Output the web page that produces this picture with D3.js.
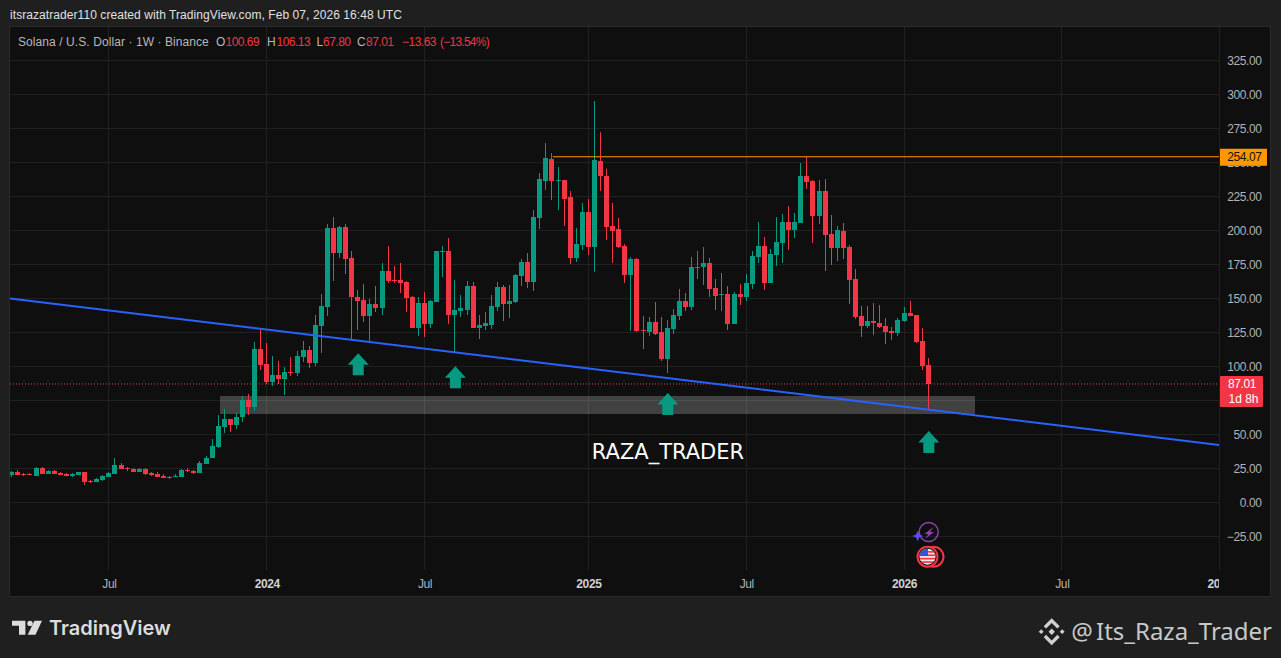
<!DOCTYPE html>
<html lang="en">

<head>
    <meta charset="UTF-8">
    <title>Solana / U.S. Dollar 1W</title>
    <script src="https://d3js.org/d3.v7.min.js"></script>
    <style>
        body {
            margin: 0;
            padding: 0;
            background-color: #1f1f1f;
            overflow: hidden;
        }

        svg {
            display: block;
            font-family: 'Liberation Sans', sans-serif;
        }

        .axis text {
            fill: #b2b2b2;
            font-size: 12px;
            letter-spacing: -0.4px;
        }

        .axis .major text {
            font-weight: bold;
            fill: #d0d0d0;
        }

        .axis path,
        .axis line {
            display: none;
        }

        .grid line {
            stroke: #212121;
            stroke-width: 1;
            shape-rendering: crispEdges;
        }
    </style>
</head>

<body>
    <svg id="chart" width="1281" height="658"></svg>

    <script>
        // Weekly candles, first one is the week of 2023-03-13
        const firstWeek = "2023-03-13";
        const candleOpen = [
            20.1, 22.3, 21.1, 21.1, 19.6, 25.2, 20.8, 23, 21.8, 21.1,
            19.6, 20.1, 22.3, 15.9, 15, 16.4, 18.6, 20.8, 27.5, 25.5,
            24.5, 22.3, 24.5, 21.8, 20.8, 19.4, 18.1, 18.6, 18.6, 23.8,
            23, 21.6, 28.2, 32.6, 40.7, 55.4, 61.3, 56.9, 62.7, 75.2,
            70.1, 112.7, 101.7, 88.5, 93.6, 90.7, 95.8, 95, 106.9, 112,
            102.5, 129.7, 143.6, 201.7, 183.3, 202.5, 179.7, 151, 148.8, 137,
            145.8, 142.9, 170.1, 163.5, 163.5, 162, 151, 128.2, 146.6, 131.1,
            147.3, 184, 184.8, 137.7, 140.7, 141.4, 159.1, 128.2, 129.7, 130.4,
            143.6, 158.3, 145.8, 147.3, 166.4, 176.7, 162, 209, 236.3, 252.5,
            236.3, 237, 224.5, 179.7, 189.2, 213.5, 187.7, 251, 240, 203.2,
            201, 188.5, 167.2, 178.9, 126.7, 125.2, 132.6, 125.2, 105.4, 127.5,
            137, 148, 143.6, 172.3, 173, 176, 157.6, 152.5, 153.2, 131.1,
            153.2, 151, 160.5, 180.4, 188.5, 161.3, 181.9, 190.7, 206.1, 200.2,
            205.4, 240, 236.3, 210.5, 228.9, 197.3, 187, 199.5, 187.7, 164.2,
            137, 129.7, 133.3, 131.9, 129.7, 126, 124.5, 133.3, 139.2, 137.7,
            118.6, 100.69
        ];
        const candleHigh = [
            23.3, 23.5, 21.6, 21.6, 26, 26, 23.8, 23.8, 22.3, 21.6,
            21.6, 22.5, 22.5, 16.4, 17.9, 19.9, 22.3, 32.6, 28.7, 26.2,
            25.2, 25, 25, 22.3, 22, 20.6, 19.6, 20.8, 24.5, 25,
            23.8, 30.4, 34.1, 46.6, 64.2, 68.6, 61.3, 65.7, 78.2, 79.7,
            117.9, 126.7, 117.2, 107.6, 103.9, 99.5, 106.9, 111.3, 118.6, 114.9,
            137.7, 153.2, 204.7, 209.8, 203.2, 204.7, 184.8, 156.1, 160.5, 149.5,
            159.1, 176, 188.5, 173.8, 176, 162.7, 151.7, 151, 154.7, 148.8,
            184.8, 188.5, 194.4, 163.5, 152.5, 162.7, 162, 137.7, 140, 152.5,
            162, 159.8, 159.8, 167.9, 178.9, 183.3, 215, 242.2, 264.2, 256.9,
            246.6, 237, 228.9, 201.7, 220.1, 223, 295, 272.3, 245.1, 220.1,
            209.1, 190, 180.4, 179.7, 137, 136.3, 147.3, 136.3, 134, 142.2,
            156.9, 153.9, 180.4, 184.8, 187.7, 179.7, 164.2, 168.6, 159.1, 154.7,
            160.5, 167.9, 184.8, 206.1, 195.1, 186.3, 209.8, 212, 217.9, 212.7,
            249.5, 253.9, 237, 237, 237.7, 211.3, 203.2, 205.4, 189.2, 171.6,
            144.4, 144.4, 146.6, 145.1, 135.5, 128.9, 135.5, 143.6, 148, 137.7,
            128.2, 106.13
        ];
        const candleLow = [
            18.9, 20, 19.4, 19.9, 19.6, 20.8, 20.8, 20.6, 19.9, 19.4,
            18.6, 20, 12.7, 14, 15, 15.7, 18.6, 20.8, 24.5, 23,
            22.3, 22.3, 20.3, 19.4, 18.9, 18.1, 17.2, 18.6, 18.6, 22.3,
            20.8, 21.6, 28.2, 32.6, 40, 51, 51.7, 53.9, 59, 64.2,
            67.2, 97.3, 87, 85.5, 87, 78.9, 92.8, 92.8, 103.2, 98.8,
            100.2, 109.8, 137, 162.7, 179.7, 167.9, 119.4, 126.7, 132.6, 118.6,
            140, 137.7, 161.3, 161.3, 153.9, 140, 128.2, 122.3, 121.6, 128.2,
            147.3, 165.7, 131.1, 110.5, 136.3, 137.7, 128.2, 120.1, 126.7, 127.5,
            140.7, 133.3, 135.5, 146.6, 159.1, 157.6, 155.4, 201, 229.7, 222.3,
            215, 203.2, 175.2, 176.7, 185.5, 181.9, 169.4, 228.9, 192.9, 176,
            187, 161.3, 126, 125.2, 112.7, 122.3, 123, 104, 95.1, 123.8,
            134, 140.7, 141.4, 164.2, 159.8, 151, 141.4, 140.7, 126.7, 131.1,
            145.1, 148, 156.9, 176, 156.1, 161.3, 173.8, 176, 185.5, 194.4,
            205.4, 230.4, 190.7, 204.7, 170.1, 174.5, 177.5, 178.9, 145.8, 134.8,
            121.6, 128.2, 123, 128.2, 116.4, 119.4, 122.3, 132.6, 137, 117.2,
            97.3, 67.8
        ];
        const candleClose = [
            22.3, 20.1, 20.3, 20.3, 25.2, 20.8, 23, 20.8, 20.1, 19.6,
            20.8, 22.3, 15, 15, 17.2, 19.4, 21.6, 27.5, 24.5, 24.5,
            22.3, 24.5, 20.8, 20.1, 18.9, 18.1, 18.6, 19.4, 23.8, 23,
            21.8, 28.9, 32.6, 41.4, 56.1, 61.3, 56.9, 62.7, 75.2, 70.1,
            112.7, 101, 88.5, 93.6, 90.7, 95.8, 95, 107.6, 112, 102.5,
            130.4, 144.4, 201.7, 183.3, 202.5, 178.9, 151, 148, 137, 145.8,
            142.9, 170.1, 162.7, 162.7, 161.3, 150.2, 128.2, 146.6, 131.1, 148,
            184.8, 184.8, 137.7, 141.4, 142.9, 159.1, 128.2, 130.4, 131.9, 144.4,
            158.3, 145.8, 148, 167.2, 176.7, 162, 209.8, 237.7, 253.2, 236.3,
            237, 223, 179.7, 190, 213.5, 187.7, 251.7, 240, 202.5, 199.5,
            187.7, 167.2, 178.9, 126, 126, 132.6, 123.8, 105.4, 128.2, 137.7,
            148, 143.6, 173, 173, 176, 156.9, 151.7, 153.2, 131.1, 153.2,
            151, 161.3, 181.1, 188.5, 161.3, 182.6, 191.4, 206.1, 200.2, 206.1,
            240, 235.5, 210.5, 228.9, 196.6, 187, 200.2, 187, 163.5, 136.3,
            129.7, 133.3, 131.9, 128.9, 125.2, 124.5, 134, 139.2, 137, 117.9,
            100.2, 87.01
        ];

        // Axis ticks
        const priceTicks = [325, 300, 275, 250, 225, 200, 175, 150, 125, 100, 75, 50, 25, 0, -25];
        const timeTickDates = ["2023-07-03", "2024-01-01", "2024-07-01", "2025-01-06", "2025-07-07", "2026-01-05", "2026-07-06", "2027-01-04"];
        const timeTickLabels = ["Jul", "2024", "Jul", "2025", "Jul", "2026", "Jul", "2027"];

        // Drawings on the chart
        const lastPrice = 87.01;
        const resistancePrice = 254.07;
        const resistanceStart = "2024-11-26";
        const resistanceEnd = "2027-01-04";
        const trendDates = ["2023-03-11", "2027-01-04"];
        const trendPrices = [149.9, 42.1];
        const zoneDates = ["2023-11-08", "2026-03-28"];
        const zonePrices = [78.2, 64.9];
        const arrowDates = ["2024-04-15", "2024-08-05", "2025-04-07", "2026-02-02"];
        const arrowPrices = [109.6, 100, 80.4, 52.4];

        const GREEN = "#089981";
        const RED = "#f23645";
        const ORANGE = "#ff9800";
        const LEGEND_GRAY = "#b8b8b8";

        // Pane and plot area
        const pane = { left: 10, top: 27, right: 1271, bottom: 597 };
        const plot = { left: 10, top: 27, right: 1219, bottom: 570 };

        const svg = d3.select("#chart");
        const parseDate = d3.utcParse("%Y-%m-%d");

        const xScale = d3.scaleUtc()
            .domain([parseDate("2024-01-01"), parseDate("2026-02-02")])
            .range([266.7, 928.3]);
        const yScale = d3.scaleLinear()
            .domain([0, 325])
            .range([502.3, 60.3]);

        const candles = candleOpen.map((open, i) => ({
            date: d3.utcDay.offset(parseDate(firstWeek), i * 7),
            open,
            high: candleHigh[i],
            low: candleLow[i],
            close: candleClose[i]
        }));

        svg.append("rect")
            .attr("x", pane.left - 0.5)
            .attr("y", pane.top - 0.5)
            .attr("width", pane.right - pane.left)
            .attr("height", pane.bottom - pane.top)
            .attr("fill", "#0f0f0f")
            .attr("stroke", "#2b2b2b");

        const defs = svg.append("defs");
        defs.append("clipPath").attr("id", "plot-clip").append("rect")
            .attr("x", plot.left)
            .attr("y", plot.top)
            .attr("width", plot.right - plot.left)
            .attr("height", plot.bottom - plot.top);
        defs.append("clipPath").attr("id", "time-clip").append("rect")
            .attr("x", plot.left)
            .attr("y", plot.bottom)
            .attr("width", plot.right - plot.left)
            .attr("height", pane.bottom - plot.bottom);

        // Grid
        const grid = svg.append("g").attr("class", "grid");
        grid.selectAll(".h")
            .data(priceTicks)
            .join("line")
            .attr("class", "h")
            .attr("x1", plot.left)
            .attr("x2", plot.right)
            .attr("y1", d => yScale(d))
            .attr("y2", d => yScale(d));
        grid.selectAll(".v")
            .data(timeTickDates)
            .join("line")
            .attr("class", "v")
            .attr("x1", d => xScale(parseDate(d)))
            .attr("x2", d => xScale(parseDate(d)))
            .attr("y1", plot.top)
            .attr("y2", plot.bottom);

        // Gray support zone
        svg.append("rect")
            .attr("x", xScale(parseDate(zoneDates[0])))
            .attr("y", yScale(zonePrices[0]))
            .attr("width", xScale(parseDate(zoneDates[1])) - xScale(parseDate(zoneDates[0])))
            .attr("height", yScale(zonePrices[1]) - yScale(zonePrices[0]))
            .attr("fill", "#ffffff")
            .attr("fill-opacity", 0.21)
            .attr("shape-rendering", "crispEdges");

        // Candles
        const chart = svg.append("g").attr("clip-path", "url(#plot-clip)");
        const candleG = chart.selectAll(".candle")
            .data(candles)
            .join("g")
            .attr("class", "candle")
            .attr("fill", d => d.close >= d.open ? GREEN : RED)
            .attr("shape-rendering", "crispEdges");
        candleG.append("rect")
            .attr("x", d => Math.floor(xScale(d.date)))
            .attr("width", 1)
            .attr("y", d => yScale(d.high))
            .attr("height", d => yScale(d.low) - yScale(d.high));
        candleG.append("rect")
            .attr("x", d => Math.floor(xScale(d.date)) - 2)
            .attr("width", 5)
            .attr("y", d => yScale(Math.max(d.open, d.close)))
            .attr("height", d => Math.max(1, Math.abs(yScale(d.open) - yScale(d.close))));

        // Last price dotted line
        chart.append("line")
            .attr("x1", plot.left)
            .attr("x2", plot.right)
            .attr("y1", yScale(lastPrice))
            .attr("y2", yScale(lastPrice))
            .attr("stroke", RED)
            .attr("stroke-dasharray", "1 2");

        // Resistance line
        chart.append("line")
            .attr("x1", xScale(parseDate(resistanceStart)))
            .attr("x2", xScale(parseDate(resistanceEnd)))
            .attr("y1", yScale(resistancePrice))
            .attr("y2", yScale(resistancePrice))
            .attr("stroke", ORANGE);

        // Trend line
        const trendLine = d3.line()
            .x(d => xScale(parseDate(d)))
            .y((d, i) => yScale(trendPrices[i]));
        chart.append("path")
            .attr("d", trendLine(trendDates))
            .attr("fill", "none")
            .attr("stroke", "#2962ff")
            .attr("stroke-width", 2);

        // Up arrows, drawn from the tip
        const arrowShape = "M0,0L10.5,11.5H5.5V22H-5.5V11.5H-10.5Z";
        chart.selectAll(".arrow")
            .data(arrowDates)
            .join("path")
            .attr("class", "arrow")
            .attr("d", arrowShape)
            .attr("fill", GREEN)
            .attr("transform", (d, i) => `translate(${xScale(parseDate(d)) + 0.5},${yScale(arrowPrices[i])})`);

        // Watermark text on the chart
        svg.append("text")
            .attr("x", 668)
            .attr("y", 458.5)
            .attr("text-anchor", "middle")
            .attr("fill", "#ffffff")
            .style("font-family", "'DejaVu Sans', sans-serif")
            .style("font-size", "21px")
            .text("RAZA_TRADER");

        // Event icons
        const eventG = svg.append("g");
        eventG.append("circle")
            .attr("cx", 928.7).attr("cy", 532).attr("r", 9.5)
            .attr("fill", "none").attr("stroke", "#8e3fa8").attr("stroke-width", 1.5);
        eventG.append("path")
            .attr("d", "M933.5,527L924.5,534H928.5L925,539L934,532H930Z")
            .attr("fill", "#9c3fb5");
        eventG.append("path")
            .attr("d", "M917.7,530.5L919.2,534.5L923.2,536L919.2,537.5L917.7,541.5L916.2,537.5L912.2,536L916.2,534.5Z")
            .attr("fill", "#5b4dff");
        eventG.append("circle")
            .attr("cx", 933.5).attr("cy", 556.7).attr("r", 10)
            .attr("fill", "#0f0f0f").attr("stroke", RED).attr("stroke-width", 2);
        const flagClip = defs.append("clipPath").attr("id", "flag-clip");
        flagClip.append("circle").attr("cx", 927.5).attr("cy", 556.7).attr("r", 8);
        eventG.append("circle")
            .attr("cx", 927.5).attr("cy", 556.7).attr("r", 10)
            .attr("fill", "#0f0f0f").attr("stroke", RED).attr("stroke-width", 2);
        const flagG = eventG.append("g").attr("clip-path", "url(#flag-clip)");
        flagG.append("rect").attr("x", 919).attr("y", 548).attr("width", 17).attr("height", 17).attr("fill", "#eeeeee");
        d3.range(4).forEach(i => {
            flagG.append("rect").attr("x", 919).attr("y", 551 + i * 3.4).attr("width", 17).attr("height", 1.7).attr("fill", RED);
        });
        flagG.append("rect").attr("x", 919).attr("y", 548).attr("width", 9).attr("height", 8).attr("fill", "#2f57d0");

        // Price axis, 75.00 sits behind the last price label so it gets no text
        const priceAxis = d3.axisRight(yScale)
            .tickValues(priceTicks)
            .tickSize(0)
            .tickPadding(0)
            .tickFormat(d => d === 75 ? "" : d3.format(".2f")(d).replace("-", "\u2212"));
        svg.append("g")
            .attr("class", "axis")
            .attr("transform", "translate(1261.5,0)")
            .call(priceAxis)
            .selectAll("text")
            .attr("text-anchor", "end");

        // Time axis, last label gets cut off at the price scale
        const timeAxis = d3.axisBottom(xScale)
            .tickValues(timeTickDates.map(parseDate))
            .tickSize(0)
            .tickPadding(0)
            .tickFormat((d, i) => timeTickLabels[i]);
        const timeG = svg.append("g")
            .attr("clip-path", "url(#time-clip)")
            .append("g")
            .attr("class", "axis")
            .attr("transform", "translate(0,579)")
            .call(timeAxis);
        timeG.selectAll(".tick")
            .classed("major", (d, i) => timeTickLabels[i] !== "Jul");

        // Price labels
        svg.append("rect")
            .attr("x", 1220).attr("y", yScale(resistancePrice) - 8)
            .attr("width", 47).attr("height", 17)
            .attr("fill", ORANGE);
        svg.append("text")
            .attr("x", 1261.5).attr("y", yScale(resistancePrice) + 4.5)
            .attr("text-anchor", "end")
            .attr("fill", "#131313")
            .style("font-size", "12px")
            .style("letter-spacing", "-0.4px")
            .text(resistancePrice.toFixed(2));
        svg.append("rect")
            .attr("x", 1220).attr("y", yScale(lastPrice) - 8)
            .attr("width", 43).attr("height", 31)
            .attr("rx", 1)
            .attr("fill", RED);
        svg.append("text")
            .attr("x", 1228).attr("y", yScale(lastPrice) + 4.5)
            .attr("fill", "#ffffff")
            .style("font-size", "12px")
            .style("letter-spacing", "-0.4px")
            .text(lastPrice.toFixed(2));
        svg.append("text")
            .attr("x", 1228.5).attr("y", yScale(lastPrice) + 19)
            .attr("fill", "#ffffff")
            .style("font-size", "12px")
            .text("1d 8h");

        // Header
        svg.append("text")
            .attr("x", 10).attr("y", 19)
            .attr("fill", "#e0e0e0")
            .style("font-size", "12px")
            .style("letter-spacing", "0.07px")
            .text("itsrazatrader110 created with TradingView.com, Feb 07, 2026 16:48 UTC");

        // Legend line
        const legendTexts = ["Solana / U.S. Dollar \u00b7 1W \u00b7 Binance", "O", "100.69", "H", "106.13", "L", "67.80", "C", "87.01", "\u221213.63", "(\u221213.54%)"];
        const legendStarts = [18, 216, 225.5, 267, 276.5, 316.5, 323, 357, 366, 402, 440];
        const legendSpacing = [0.08, 0, -0.5, 0, -0.5, 0, -0.5, 0, -0.5, -0.5, -0.75];
        const legend = svg.append("g")
            .style("font-size", "12px");
        legend.selectAll("text")
            .data(legendTexts)
            .join("text")
            .attr("x", (d, i) => legendStarts[i])
            .attr("y", 46)
            .attr("fill", (d, i) => (i < 2 || i === 3 || i === 5 || i === 7) ? LEGEND_GRAY : RED)
            .style("letter-spacing", (d, i) => `${legendSpacing[i]}px`)
            .text(d => d);

        // TradingView logo and footer
        const logo = svg.append("g").attr("fill", "#dcdcdc");
        logo.append("path").attr("d", "M12,620.7H25.4V634.7H19V625.7H12Z");
        logo.append("circle").attr("cx", 30).attr("cy", 623.4).attr("r", 2.7);
        logo.append("path").attr("d", "M34.5,620.7H42L35.5,634.7H27.7Z");
        svg.append("text")
            .attr("x", 49).attr("y", 635)
            .attr("fill", "#dcdcdc")
            .style("font-family", "Inter, sans-serif")
            .style("font-weight", "600")
            .style("font-size", "20px")
            .text("TradingView");

        const binance = svg.append("g")
            .attr("transform", "translate(1051.7,631.7)")
            .attr("fill", "#d0d0d0");
        binance.append("path").attr("d", "M0,-3.2L3.2,0L0,3.2L-3.2,0Z");
        binance.append("path").attr("d", "M-10.5,-2.4L-8.1,0L-10.5,2.4L-12.9,0Z");
        binance.append("path").attr("d", "M10.5,-2.4L12.9,0L10.5,2.4L8.1,0Z");
        binance.append("path").attr("d", "M0,-13.5L8,-5.5L5.6,-3.1L0,-8.7L-5.6,-3.1L-8,-5.5Z");
        binance.append("path").attr("d", "M0,13.5L8,5.5L5.6,3.1L0,8.7L-5.6,3.1L-8,5.5Z");
        svg.append("text")
            .attr("x", 1272).attr("y", 640)
            .attr("text-anchor", "end")
            .attr("fill", "#c8c8c8")
            .style("font-family", "'Noto Sans', sans-serif")
            .style("font-size", "24px")
            .style("word-spacing", "-3px")
            .text("@ Its_Raza_Trader");
    </script>
</body>

</html>
